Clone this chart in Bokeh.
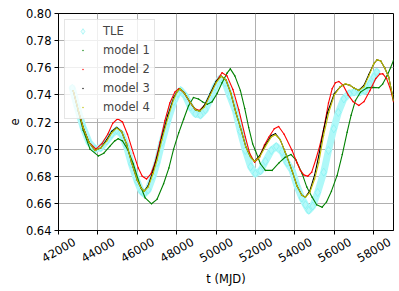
import math
from bokeh.plotting import figure
from bokeh.models import (Range1d, FixedTicker, NumeralTickFormatter, Legend, LegendItem,
                          LinearAxis)
from bokeh.embed import file_html
from bokeh.resources import INLINE

# ---------------- data ----------------
tle_t = [42700, 42950, 43250, 43550, 43850, 44150, 44450, 44700, 44950, 45200,
         45450, 45700, 46000, 46200, 46350, 46550, 46800, 47000, 47250, 47550,
         47850, 48050, 48200, 48450, 48700, 48950, 49200, 49450, 49700, 49950,
         50200, 50450, 50700, 50975, 51230, 51483, 51750, 51990, 52250, 52500,
         52800, 53050, 53350, 53600, 53855, 54100, 54350, 54531, 54700, 54900,
         55150, 55460, 55700, 55970, 56200, 56480, 56750, 57000, 57300, 57550,
         57800, 58000, 58150]
tle_e = [0.745, 0.731, 0.716, 0.705, 0.700, 0.701, 0.706, 0.711, 0.714, 0.711,
         0.702, 0.689, 0.676, 0.669, 0.667, 0.670, 0.680, 0.690, 0.705, 0.721,
         0.735, 0.741, 0.7433, 0.739, 0.731, 0.726, 0.725, 0.729, 0.737, 0.746,
         0.752, 0.749, 0.739, 0.7285, 0.713, 0.699, 0.687, 0.6819, 0.684, 0.691,
         0.699, 0.702, 0.698, 0.690, 0.6843, 0.673, 0.664, 0.659, 0.6548, 0.658,
         0.668, 0.683, 0.699, 0.715, 0.727, 0.737, 0.741, 0.742, 0.742, 0.743,
         0.748, 0.753, 0.757]

m1_t = [42750, 43000, 43250, 43600, 44020, 44300, 44600, 44850, 45030, 45250,
        45500, 45800, 46100, 46400, 46720, 47000, 47333, 47600, 47841, 48100,
        48349, 48600, 48850, 49100, 49300, 49550, 49800, 50050, 50300, 50550,
        50721, 50950, 51229, 51450, 51651, 51850, 51991, 52245, 52500, 52840,
        53200, 53500, 53800, 54050, 54363, 54600, 54871, 55100, 55380, 55600,
        55850, 56140, 56400, 56648, 56850, 57070, 57324, 57664, 57950, 58253,
        58450, 58680, 58850, 59000]
m1_e = [0.743, 0.728, 0.714, 0.700, 0.695, 0.697, 0.702, 0.706, 0.7076, 0.706,
        0.700, 0.689, 0.675, 0.664, 0.6597, 0.663, 0.6745, 0.686, 0.700, 0.712,
        0.722, 0.732, 0.738, 0.737, 0.735, 0.733, 0.735, 0.741, 0.749, 0.756,
        0.7592, 0.754, 0.7433, 0.730, 0.716, 0.704, 0.699, 0.6892, 0.6843, 0.6843,
        0.690, 0.694, 0.696, 0.692, 0.6819, 0.672, 0.6646, 0.659, 0.6572, 0.661,
        0.669, 0.6806, 0.696, 0.7125, 0.725, 0.7359, 0.742, 0.7452, 0.7455, 0.7452,
        0.748, 0.7543, 0.760, 0.7654]

m2_t = [42750, 43000, 43250, 43550, 43900, 44200, 44500, 44750, 45000, 45250,
        45500, 45800, 46050, 46250, 46470, 46700, 46900, 47150, 47400, 47650,
        47900, 48100, 48350, 48650, 48900, 49160, 49450, 49750, 50050, 50300,
        50550, 50850, 51150, 51480, 51700, 51950, 52200, 52450, 52670, 52950,
        53170, 53450, 53855, 54100, 54277, 54450, 54650, 54850, 55050, 55250,
        55460, 55700, 55886, 56050, 56222, 56450, 56700, 56950, 57240, 57500,
        57800, 58100, 58300, 58450, 58650, 58850, 59000]
m2_e = [0.743, 0.729, 0.716, 0.705, 0.700, 0.704, 0.711, 0.719, 0.7224, 0.720,
        0.711, 0.697, 0.686, 0.680, 0.678, 0.682, 0.690, 0.705, 0.721, 0.734,
        0.742, 0.7445, 0.742, 0.735, 0.730, 0.7285, 0.733, 0.742, 0.751, 0.7563,
        0.754, 0.744, 0.729, 0.709, 0.697, 0.6904, 0.694, 0.703, 0.7088, 0.715,
        0.7167, 0.711, 0.699, 0.690, 0.6843, 0.681, 0.680, 0.683, 0.692, 0.702,
        0.715, 0.734, 0.7445, 0.749, 0.7499, 0.747, 0.740, 0.735, 0.7322, 0.735,
        0.743, 0.752, 0.7553, 0.7556, 0.752, 0.744, 0.735]

m3_t = [42750, 43000, 43250, 43550, 43850, 44150, 44450, 44700, 44950, 45200,
        45450, 45708, 46000, 46200, 46350, 46550, 46800, 47000, 47250, 47550,
        47850, 48050, 48180, 48400, 48700, 48950, 49160, 49400, 49700, 50000,
        50260, 50500, 50750, 51000, 51230, 51500, 51750, 51950, 52200, 52500,
        52800, 53010, 53250, 53500, 53855, 54100, 54350, 54530, 54750, 55000,
        55206, 55450, 55650, 56000, 56300, 56560, 56800, 57000, 57240, 57500,
        57750, 58000, 58170, 58350, 58550, 58760, 59000]
m3_e = [0.743, 0.729, 0.716, 0.705, 0.699, 0.701, 0.707, 0.713, 0.716, 0.713,
        0.704, 0.690, 0.677, 0.671, 0.669, 0.673, 0.684, 0.694, 0.709, 0.725,
        0.738, 0.743, 0.7445, 0.741, 0.734, 0.729, 0.728, 0.732, 0.741, 0.750,
        0.7538, 0.751, 0.741, 0.727, 0.716, 0.702, 0.694, 0.691, 0.695, 0.703,
        0.710, 0.7113, 0.707, 0.698, 0.684, 0.673, 0.666, 0.6646, 0.669, 0.681,
        0.695, 0.714, 0.727, 0.741, 0.746, 0.748, 0.747, 0.745, 0.7433, 0.747,
        0.755, 0.763, 0.7659, 0.765, 0.760, 0.753, 0.736]

m4_t = [42750, 43000, 43250, 43550, 43850, 44150, 44450, 44700, 44950, 45200,
        45450, 45708, 46000, 46200, 46350, 46550, 46800, 47000, 47250, 47550,
        47850, 48050, 48180, 48400, 48700, 48950, 49160, 49400, 49700, 50000,
        50260, 50500, 50750, 51000, 51230, 51500, 51750, 51950, 52200, 52500,
        52800, 53010, 53250, 53500, 53855, 54100, 54350, 54530, 54750, 55000,
        55206, 55450, 55714, 56000, 56300, 56560, 56800, 57000, 57240, 57500,
        57750, 58000, 58170, 58350, 58550, 58760, 59000]
m4_e = [0.743, 0.729, 0.716, 0.705, 0.699, 0.701, 0.706, 0.712, 0.7155, 0.713,
        0.704, 0.690, 0.677, 0.671, 0.669, 0.672, 0.682, 0.692, 0.707, 0.723,
        0.737, 0.743, 0.7445, 0.741, 0.734, 0.729, 0.728, 0.731, 0.740, 0.749,
        0.7538, 0.751, 0.741, 0.727, 0.716, 0.702, 0.694, 0.691, 0.694, 0.702,
        0.709, 0.7106, 0.707, 0.698, 0.684, 0.673, 0.666, 0.6646, 0.668, 0.678,
        0.690, 0.710, 0.727, 0.740, 0.746, 0.7482, 0.747, 0.745, 0.7433, 0.746,
        0.754, 0.763, 0.7659, 0.765, 0.760, 0.753, 0.736]

x_ticks = [42000, 44000, 46000, 48000, 50000, 52000, 54000, 56000, 58000]
y_ticks = [0.64, 0.66, 0.68, 0.70, 0.72, 0.74, 0.76, 0.78, 0.80]
x_label = "t (MJD)"
y_label = "e"
names = ["TLE", "model 1", "model 2", "model 3", "model 4"]

# ---------------- figure ----------------
FONT = "DejaVu Sans"
FS = "11.5px"
X0, X1 = 42000, 59000
p = figure(width=398, height=290, output_backend="svg", toolbar_location=None,
           x_range=Range1d(X0, X1), y_range=Range1d(0.64, 0.80),
           min_border_left=58, min_border_right=5, min_border_top=13,
           min_border_bottom=60)
p.outline_line_color = "black"
p.outline_line_alpha = 1
p.outline_line_width = 1

def style(ax):
    ax.major_label_text_font = FONT
    ax.major_label_text_font_size = FS
    ax.major_label_text_color = "black"
    ax.axis_label_text_font = FONT
    ax.axis_label_text_font_size = FS
    ax.axis_label_text_font_style = "normal"
    ax.axis_label_text_color = "black"
    ax.axis_line_color = "black"
    ax.major_tick_line_color = "black"
    ax.major_tick_out = 4
    ax.major_tick_in = 0
    ax.minor_tick_line_color = None
    ax.major_label_standoff = 3

xa = p.below[0]
ya = p.left[0]
style(xa)
style(ya)
xa.ticker = FixedTicker(ticks=x_ticks)
xa.major_label_overrides = {t: "" for t in x_ticks}
xa.major_label_text_font_size = "0px"
xa.major_label_standoff = 0
ya.ticker = FixedTicker(ticks=y_ticks)
ya.formatter = NumeralTickFormatter(format="0.00")
ya.axis_label = y_label
ya.axis_label_standoff = 4
p.xgrid.ticker = FixedTicker(ticks=x_ticks)
p.ygrid.ticker = FixedTicker(ticks=y_ticks)
p.grid.grid_line_color = "#b0b0b0"
p.grid.grid_line_width = 1

# label-only axis, shifted so that each rotated label is centred under its tick
SHIFT = 800
p.extra_x_ranges = {"lab": Range1d(X0 - SHIFT, X1 - SHIFT)}
xl = LinearAxis(x_range_name="lab", ticker=FixedTicker(ticks=x_ticks),
                formatter=NumeralTickFormatter(format="0"))
style(xl)
xl.axis_line_color = None
xl.major_tick_line_color = None
xl.major_tick_out = 0
xl.major_label_orientation = math.pi / 6
xl.major_label_standoff = 6
xl.axis_label = x_label
xl.axis_label_standoff = 2
p.add_layout(xl, "below")

# TLE band
p.line(tle_t, tle_e, line_color="#aef8f8", line_width=7, line_join="round", line_cap="round")
r_tle = p.scatter(tle_t, tle_e, marker="diamond", size=8, fill_color="#c8fcfc",
                  fill_alpha=0.3, line_color="#70f0f0", line_alpha=0.5, line_width=1)

colors = ["#008000", "#ff0000", "#000000", "#bfbf00"]
series = [(m1_t, m1_e), (m2_t, m2_e), (m3_t, m3_e), (m4_t, m4_e)]
dots = []
for (tt, ee), c in zip(series, colors):
    p.line(tt, ee, line_color=c, line_width=1.1)
    dots.append(p.scatter(tt, ee, marker="dot", size=6, line_color=c, line_width=2,
                          fill_color=c))

items = [LegendItem(label=names[0], renderers=[r_tle])]
for n, r in zip(names[1:], dots):
    items.append(LegendItem(label=n, renderers=[r]))
legend = Legend(items=items, location="top_left", margin=6, padding=4,
                spacing=5, glyph_height=14, glyph_width=27, label_height=14,
                label_standoff=7, label_text_font=FONT, label_text_font_size=FS,
                border_line_color="#cccccc", border_line_width=1,
                background_fill_alpha=0.8)
p.add_layout(legend)

open("out.html", "w").write(file_html(p, INLINE))
